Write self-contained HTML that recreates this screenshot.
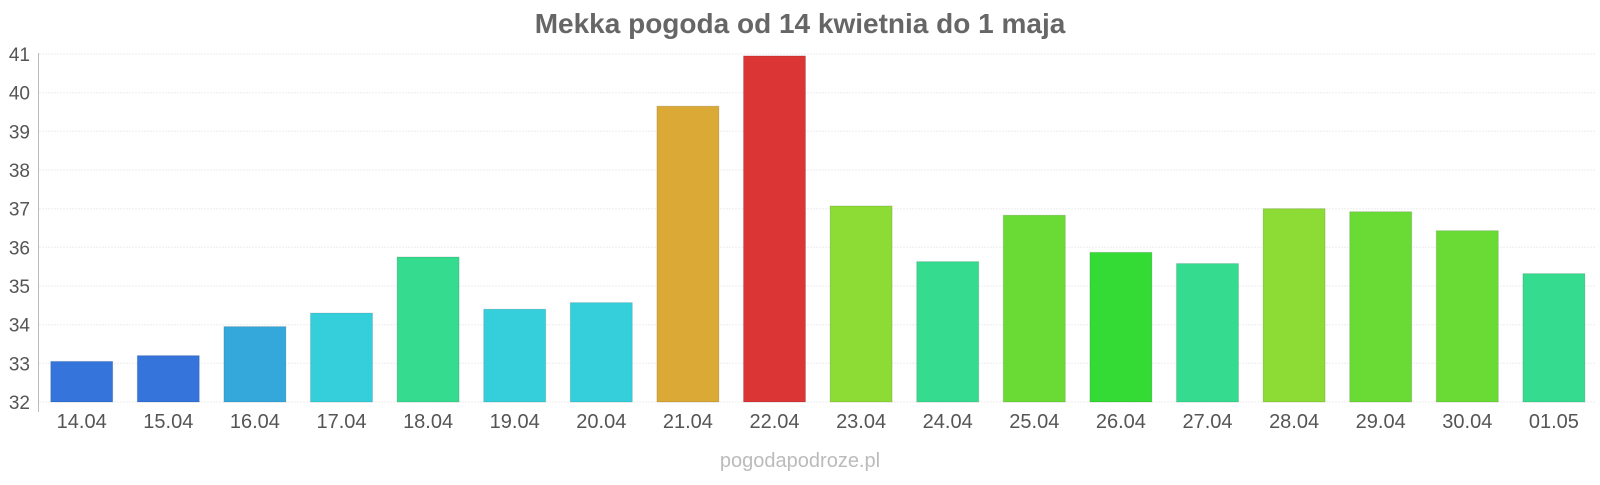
<!DOCTYPE html>
<html><head><meta charset="utf-8"><style>
html,body{margin:0;padding:0;background:#fff;}
svg text{font-family:"Liberation Sans",sans-serif;}
</style></head><body>
<svg width="1600" height="480" xmlns="http://www.w3.org/2000/svg">
<text x="800" y="33" text-anchor="middle" font-size="28" font-weight="bold" fill="#666">Mekka pogoda od 14 kwietnia do 1 maja</text>
<g stroke="#eee" stroke-width="1" stroke-dasharray="2,1">
<line x1="39" x2="1595" y1="54" y2="54"/><line x1="39" x2="1595" y1="92.7" y2="92.7"/><line x1="39" x2="1595" y1="131.3" y2="131.3"/><line x1="39" x2="1595" y1="170" y2="170"/><line x1="39" x2="1595" y1="208.7" y2="208.7"/><line x1="39" x2="1595" y1="247.3" y2="247.3"/><line x1="39" x2="1595" y1="286" y2="286"/><line x1="39" x2="1595" y1="324.7" y2="324.7"/><line x1="39" x2="1595" y1="363.3" y2="363.3"/><line x1="39" x2="1595" y1="402" y2="402"/>
</g>
<line x1="38.5" x2="38.5" y1="53" y2="412" stroke="#bbb"/>
<g font-size="19" fill="#555" text-anchor="end">
<text x="30" y="61">41</text><text x="30" y="99.7">40</text><text x="30" y="138.3">39</text><text x="30" y="177">38</text><text x="30" y="215.7">37</text><text x="30" y="254.3">36</text><text x="30" y="293">35</text><text x="30" y="331.7">34</text><text x="30" y="370.3">33</text><text x="30" y="409">32</text>
</g>
<g id="bars"></g>
<g id="labels" font-size="20" fill="#555" text-anchor="middle"></g>
<text x="800" y="467" text-anchor="middle" font-size="20" fill="#bbb">pogodapodroze.pl</text>
<script>
(function(){
var vals=[33.05,33.2,33.95,34.3,35.75,34.4,34.57,39.65,40.95,37.07,35.63,36.83,35.87,35.58,37.0,36.92,36.43,35.32];
var cols=["#3474db","#3474db","#35a8db","#35cfdb","#35db8f","#35cfdb","#35cfdb","#dba935","#db3535","#8ddb35","#35db8f","#6adb35","#35db35","#35db8f","#8ddb35","#6adb35","#6adb35","#35db8f"];
var labs=["14.04","15.04","16.04","17.04","18.04","19.04","20.04","21.04","22.04","23.04","24.04","25.04","26.04","27.04","28.04","29.04","30.04","01.05"];
var b=document.getElementById('bars'),l=document.getElementById('labels'),ns="http://www.w3.org/2000/svg";
for(var i=0;i<18;i++){var x=50.7+i*86.6,ty=402-(vals[i]-32)*38.67;
var r=document.createElementNS(ns,'rect');r.setAttribute('x',x);r.setAttribute('y',ty);r.setAttribute('width',62);r.setAttribute('height',402-ty);r.setAttribute('fill',cols[i]);r.setAttribute('stroke','rgba(0,0,0,0.12)');r.setAttribute('stroke-width','1');b.appendChild(r);
var t=document.createElementNS(ns,'text');t.setAttribute('x',x+31);t.setAttribute('y',428);t.textContent=labs[i];l.appendChild(t);}
})();
</script>
</svg>
</body></html>
